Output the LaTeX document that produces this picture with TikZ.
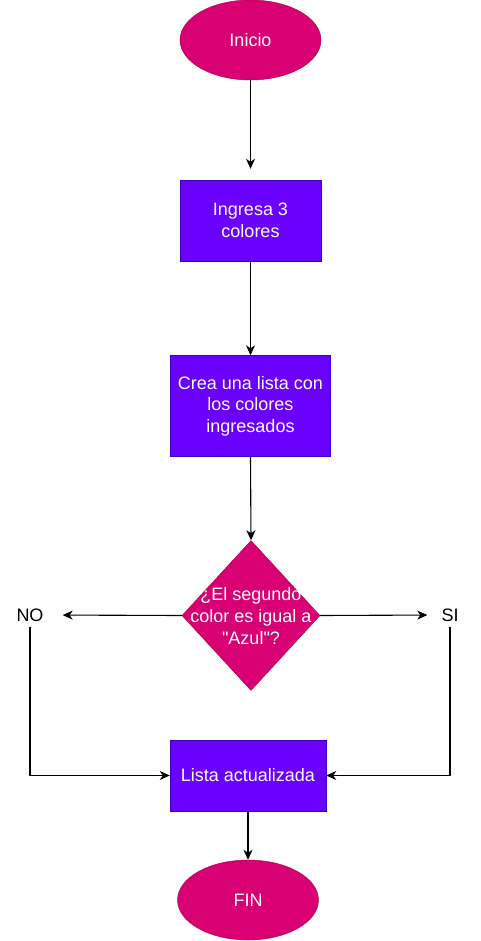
\documentclass[tikz,border=0pt]{standalone}
\usepackage{fontspec}
\setmainfont{Liberation Sans}[Ligatures=TeXOff]
\usetikzlibrary{shapes.geometric,arrows.meta}
\definecolor{magfill}{HTML}{D80073}
\definecolor{magdraw}{HTML}{A50040}
\definecolor{purfill}{HTML}{6A00FF}
\definecolor{purdraw}{HTML}{3700CC}
\tikzset{
  base/.style={font=\fontsize{18}{21.6}\selectfont, align=center, inner sep=0pt},
  term/.style={base, ellipse, fill=magfill, draw=magdraw, text=white, minimum width=141pt, minimum height=80pt},
  proc/.style={base, rectangle, fill=purfill, draw=purdraw, text=white},
  dec/.style={diamond, fill=magfill, draw=magdraw, minimum width=138pt, minimum height=150pt, inner sep=0pt},
  lbl/.style={base, text=black, inner sep=3pt},
  conn/.style={line width=1.1pt, -{Stealth[length=10pt,width=9pt,inset=3pt]}},
  line/.style={line width=1.1pt}
}
\begin{document}
\begin{tikzpicture}[x=1pt,y=-1pt]
\useasboundingbox (0,0) rectangle (480,941);
\node[term] (inicio) at (250.5,40) {Inicio};
\node[proc, minimum width=141pt, minimum height=81pt] (b1) at (250.5,220.5) {Ingresa 3\\colores};
\node[proc, minimum width=160pt, minimum height=101pt] (b2) at (250.5,406) {Crea una lista con\\los colores\\ingresados};
\node[dec] (d) at (251,615.5) {};
\node[base, text=white] (dt) at (251,616) {¿El segundo\\color es igual a\\"Azul"?};
\node[lbl] (no) at (30,615) {NO};
\node[lbl] (si) at (450,615) {SI};
\node[proc, minimum width=156pt, minimum height=71pt] (b3) at (248,775.5) {Lista actualizada};
\node[term] (fin) at (248,900) {FIN};
\draw[conn, shorten >=11pt] (inicio) -- (b1);
\draw[conn] (b1) -- (b2);
\draw[conn] (b2.south) -- (d.north);
\draw[conn, shorten >=16pt] (d.west) -- (no.east);
\draw[conn, shorten >=11pt] (d.east) -- (si.west);
\draw[conn, shorten <=2pt] (no) |- (b3);
\draw[conn, shorten <=2pt] (si) |- (b3);
\draw[conn] (b3) -- (fin);
\end{tikzpicture}
\end{document}
